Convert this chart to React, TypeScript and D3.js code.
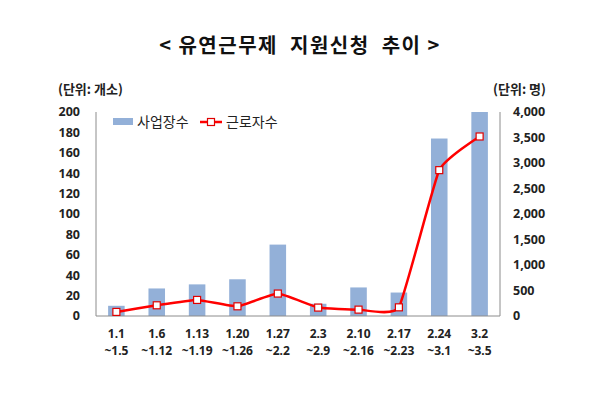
import * as d3 from "d3"

const categories = [
  ["1.1", "~1.5"],
  ["1.6", "~1.12"],
  ["1.13", "~1.19"],
  ["1.20", "~1.26"],
  ["1.27", "~2.2"],
  ["2.3", "~2.9"],
  ["2.10", "~2.16"],
  ["2.17", "~2.23"],
  ["2.24", "~3.1"],
  ["3.2", "~3.5"],
]
const workplaces = [10, 27, 31, 36, 70, 12, 28, 23, 174, 200]
const workers = [80, 210, 315, 190, 440, 165, 125, 170, 2860, 3520]
const leftTicks = [0, 20, 40, 60, 80, 100, 120, 140, 160, 180, 200]
const rightTicks = [0, 500, 1000, 1500, 2000, 2500, 3000, 3500, 4000]

const font = "'Noto Sans CJK KR', 'Noto Sans', sans-serif"
const numFont = "'Noto Sans', sans-serif"

const App = () => {
  const margin = { top: 112, right: 100, bottom: 78, left: 96 }
  const W = 600
  const H = 394
  const width = W - margin.left - margin.right
  const height = H - margin.top - margin.bottom

  const keys = categories.map((c) => c[0])
  const x = d3.scaleBand().domain(keys).range([0, width]).paddingInner(0.59).paddingOuter(0.3)
  const yL = d3.scaleLinear().domain([0, 200]).range([height, 0])
  const yR = d3.scaleLinear().domain([0, 4000]).range([height, 0])

  const cx = (k: string) => (x(k) as number) + x.bandwidth() / 2
  const line = d3
    .line<number>()
    .x((_, i) => cx(keys[i]))
    .y((d) => yR(d))
    .curve(d3.curveCardinal.tension(0.6))

  return (
    <svg width={W} height={H} style={{ position: "absolute", left: 0, top: 0, background: "#fff" }} fontFamily={font}>
      <text x={300} y={53} textAnchor="middle" fontSize={20} fontWeight="bold" fill="#111" letterSpacing={1.5} style={{ whiteSpace: "pre" }}>
        {"< 유연근무제  지원신청  추이 >"}
      </text>
      <text x={58} y={94} fontSize={13} fontWeight="bold" fill="#222">(단위: 개소)</text>
      <text x={546} y={94} textAnchor="end" fontSize={13} fontWeight="bold" fill="#222">(단위: 명)</text>

      <g transform={`translate(${margin.left},${margin.top})`}>
        {workplaces.map((v, i) => (
          <rect key={i} x={x(keys[i])} y={yL(v)} width={x.bandwidth()} height={height - yL(v)} fill="#93b0d8" />
        ))}
        <line x1={0} x2={0} y1={0} y2={height} stroke="#8c8c8c" />
        <line x1={width} x2={width} y1={0} y2={height} stroke="#8c8c8c" />
        <line x1={0} x2={width} y1={height} y2={height} stroke="#8c8c8c" />

        {leftTicks.map((t) => (
          <text key={t} x={-16} y={yL(t)} dy="0.35em" textAnchor="end" fontSize={12.5} fontWeight="bold" fill="#222" fontFamily={numFont}>
            {t}
          </text>
        ))}
        {rightTicks.map((t) => (
          <text key={t} x={width + 13} y={yR(t)} dy="0.35em" fontSize={12.5} fontWeight="bold" fill="#222" fontFamily={numFont}>
            {d3.format(",")(t)}
          </text>
        ))}

        <path d={line(workers) || ""} fill="none" stroke="#ff0000" strokeWidth={2.5} />
        {workers.map((v, i) => (
          <rect key={i} x={cx(keys[i]) - 3.5} y={yR(v) - 3.5} width={7} height={7} fill="#fff" stroke="#e00000" strokeWidth={1.2} />
        ))}

        {categories.map((c, i) => (
          <g key={i} transform={`translate(${cx(keys[i])},${height})`} fontFamily={numFont}>
            <text y={22} textAnchor="middle" fontSize={12} fontWeight="bold" fill="#222">{c[0]}</text>
            <text y={39} textAnchor="middle" fontSize={12} fontWeight="bold" fill="#222">{c[1]}</text>
          </g>
        ))}

        {/* legend */}
        <rect x={17} y={6} width={20} height={7} fill="#93b0d8" />
        <text x={41} y={10} dy="0.35em" fontSize={14} fill="#222">사업장수</text>
        <line x1={104} x2={126} y1={10} y2={10} stroke="#ff0000" strokeWidth={2.5} />
        <rect x={111.5} y={6.5} width={7} height={7} fill="#fff" stroke="#e00000" strokeWidth={1.2} />
        <text x={130} y={10} dy="0.35em" fontSize={14} fill="#222">근로자수</text>
      </g>
    </svg>
  )
}

export default App
